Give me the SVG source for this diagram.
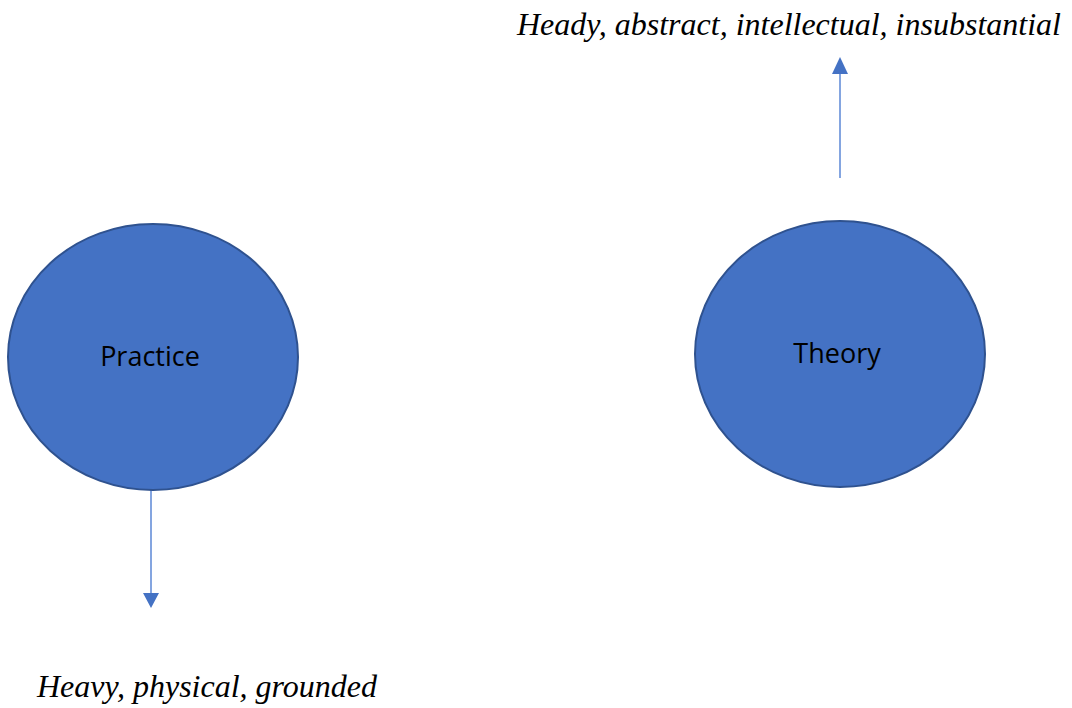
<svg xmlns="http://www.w3.org/2000/svg" width="1072" height="708" viewBox="0 0 1072 708">
<style>
.node{fill:#4472C4;stroke:#2F528F;stroke-width:2}
.lbl{font-family:"Open Sans","Liberation Sans",sans-serif;font-size:27px;fill:#000;text-anchor:middle}
.desc{font-family:"Liberation Serif","Times New Roman",serif;font-style:italic;font-size:32px;fill:#000}
.conn{stroke:#5B87D6;stroke-width:1.5;fill:none}
</style>
<rect width="1072" height="708" fill="#fff"/>
<g id="connectors">
<line class="conn" x1="840" y1="178" x2="840" y2="74"/>
<path d="M832,74 L840,57 L848,74 Z" fill="#4472C4"/>
<line class="conn" x1="151" y1="489" x2="151" y2="593"/>
<path d="M143,593 L151,608 L159,593 Z" fill="#4472C4"/>
</g>
<g id="practice">
<ellipse class="node" cx="153" cy="357" rx="145" ry="133"/>
<text class="lbl" x="150" y="366">Practice</text>
</g>
<g id="theory">
<ellipse class="node" cx="840" cy="354" rx="145" ry="133"/>
<text class="lbl" x="837" y="363">Theory</text>
</g>
<g id="theory-desc">
<text class="desc" x="517" y="35">Heady, abstract, intellectual, insubstantial</text>
</g>
<g id="practice-desc">
<text class="desc" x="37" y="697">Heavy, physical, grounded</text>
</g>
</svg>
